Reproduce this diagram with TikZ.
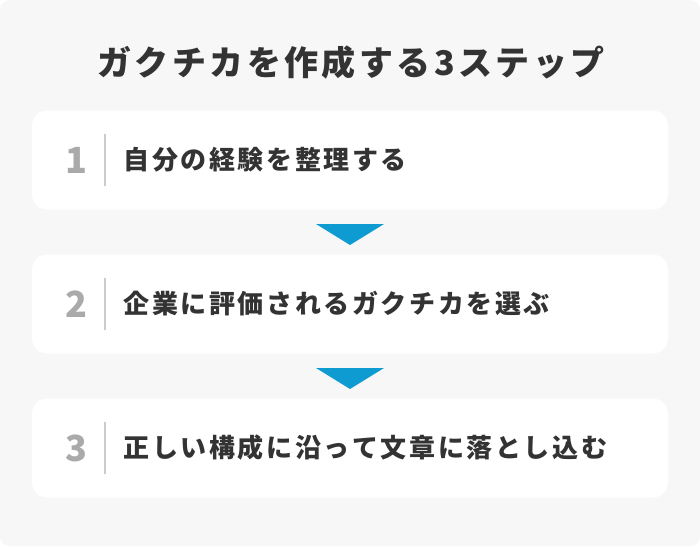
\documentclass[tikz,border=0pt]{standalone}
\usepackage{fontspec}
\setmainfont{Noto Sans CJK JP}[Kerning=Off]
\definecolor{panelbg}{HTML}{F7F7F7}
\definecolor{txt}{HTML}{333333}
\definecolor{numc}{HTML}{AAAAAA}
\definecolor{divc}{HTML}{CCCCCC}
\definecolor{tri}{HTML}{0E9BD2}
\ExplSyntaxOn
\NewDocumentCommand\spacedtxt{m}{\exp_args:No \tl_map_inline:nn {#1} {\makebox[1.1em][c]{##1}}}
\ExplSyntaxOff
\tikzset{
  stepbox/.style={fill=white, rounded corners=15pt},
  numtxt/.style={font=\fontsize{36}{36}\selectfont\bfseries, text=numc, anchor=center, inner sep=0pt},
  steptxt/.style={font=\fontsize{26}{26}\selectfont\bfseries, text=txt, anchor=west, inner sep=0pt},
  divline/.style={draw=divc, line width=1.6pt},
  arrowtri/.style={fill=tri},
}
\begin{document}
\begin{tikzpicture}[x=1pt,y=-1pt]
\useasboundingbox (0,0) rectangle (700,546);
\fill[white] (0,0) rectangle (700,546);
\fill[panelbg, rounded corners=10pt] (0,0) rectangle (700,546);
\node[font=\fontsize{34}{34}\selectfont\bfseries, text=txt, inner sep=0pt] (title) at (351,63) {\spacedtxt{ガクチカを作成する}\kern0.05em 3\kern0.05em\spacedtxt{ステップ}};
\foreach \i/\t [count=\k from 0] in {1/自分の経験を整理する, 2/企業に評価されるガクチカを選ぶ, 3/正しい構成に沿って文章に落とし込む} {
  \pgfmathsetmacro{\yc}{160+144*\k}
  \fill[stepbox] (32,\yc-49.5) rectangle (668,\yc+49.5);
  \node[numtxt] (n\i) at (76,\yc) {\i};
  \draw[divline] (105,\yc-26) -- (105,\yc+26);
  \node[steptxt] (s\i) at (122,\yc) {\spacedtxt{\t}};
}
\foreach \k in {0,1} {
  \pgfmathsetmacro{\ya}{224+144*\k}
  \fill[arrowtri] (316,\ya) -- (384,\ya) -- (350,\ya+21) -- cycle;
}
\end{tikzpicture}
\end{document}
